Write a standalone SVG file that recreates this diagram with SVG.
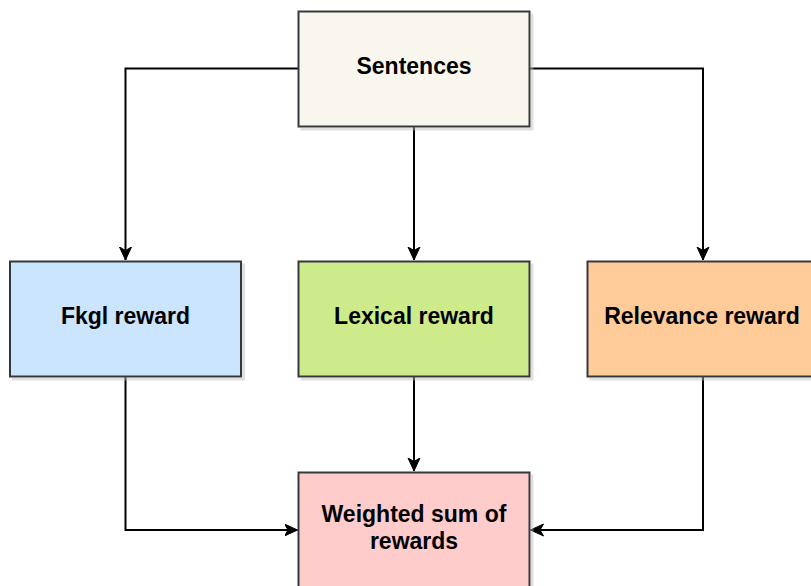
<svg xmlns="http://www.w3.org/2000/svg" width="811" height="586" viewBox="0 0 811 586">
<defs>
<marker id="arr" markerWidth="14" markerHeight="14" viewBox="0 0 14 14" refX="13" refY="7" orient="auto" markerUnits="userSpaceOnUse">
<path d="M0,1 L13,7 L0,13 L3.5,7 Z" fill="#000" stroke="#000" stroke-width="1"/>
</marker>
<filter id="sh" x="-10%" y="-10%" width="130%" height="130%">
<feOffset in="SourceAlpha" dx="3" dy="3" result="o"/>
<feColorMatrix in="o" type="matrix" values="0 0 0 0 0.5  0 0 0 0 0.5  0 0 0 0 0.5  0 0 0 0.45 0" result="c"/>
<feMerge><feMergeNode in="c"/><feMergeNode in="SourceGraphic"/></feMerge>
</filter>
</defs>
<style>
.box{stroke:#36393d;stroke-width:2;filter:url(#sh)}
.lbl{font-family:"Liberation Sans",Arial,sans-serif;font-weight:bold;font-size:23px;fill:#000;text-anchor:middle}
.edge{fill:none;stroke:#000;stroke-width:2;marker-end:url(#arr)}
</style>
<rect width="811" height="586" fill="#fff"/>
<g id="connectors">
<path class="edge" d="M298.5,68.5 H125.5 V260"/>
<path class="edge" d="M414,126.5 V260"/>
<path class="edge" d="M529.5,68.5 H703 V260"/>
<path class="edge" d="M125.5,376.5 V530 H297.5"/>
<path class="edge" d="M414,376.5 V471"/>
<path class="edge" d="M703,376.5 V530 H530.5"/>
</g>
<g id="sentences">
<rect class="box" x="298.5" y="11.5" width="231" height="115" fill="#f9f7ed"/>
<text class="lbl" x="414" y="74">Sentences</text>
</g>
<g id="fkgl">
<rect class="box" x="10" y="261.5" width="231" height="115" fill="#cce5ff"/>
<text class="lbl" x="125.5" y="324">Fkgl reward</text>
</g>
<g id="lexical">
<rect class="box" x="298.5" y="261.5" width="231" height="115" fill="#cdeb8b"/>
<text class="lbl" x="414" y="324">Lexical reward</text>
</g>
<g id="relevance">
<rect class="box" x="587.5" y="261.5" width="231" height="115" fill="#ffcc99"/>
<text class="lbl" x="702" y="324">Relevance reward</text>
</g>
<g id="weighted">
<rect class="box" x="298.5" y="472.5" width="231" height="115" fill="#ffcccc"/>
<text class="lbl" x="414" y="522">Weighted sum of</text>
<text class="lbl" x="414" y="549">rewards</text>
</g>
</svg>
